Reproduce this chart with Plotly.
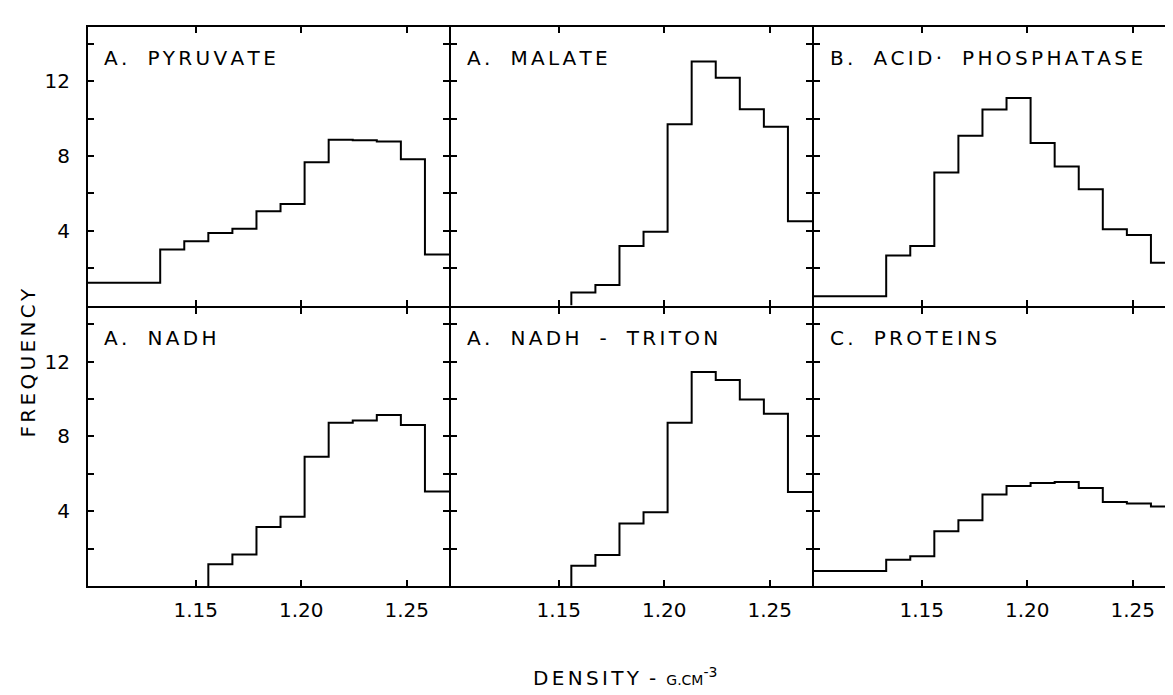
import plotly.graph_objects as go
from plotly.subplots import make_subplots

# ---- data ----
bin_edges = [1.099, 1.1104, 1.1218, 1.1332, 1.1446, 1.156, 1.1674, 1.1788,
             1.1902, 1.2016, 1.213, 1.2244, 1.2358, 1.2472, 1.2586, 1.27]

pyruvate = [1.22, 1.22, 1.22, 3.0, 3.44, 3.88, 4.11, 5.04, 5.43, 7.66, 8.87, 8.84, 8.78, 7.82, 2.73]
malate = [0, 0, 0, 0, 0, 0.69, 1.10, 3.18, 3.94, 9.70, 13.06, 12.19, 10.50, 9.56, 4.51]
acid_phosphatase = [0.5, 0.5, 0.5, 2.68, 3.18, 7.11, 9.08, 10.48, 11.1, 8.69, 7.44, 6.22, 4.08, 3.77, 2.29]
nadh = [0, 0, 0, 0, 0, 1.16, 1.69, 3.16, 3.71, 6.92, 8.74, 8.86, 9.15, 8.61, 5.05]
nadh_triton = [0, 0, 0, 0, 0, 1.09, 1.66, 3.34, 3.95, 8.73, 11.45, 11.02, 9.98, 9.21, 5.03]
proteins = [0.8, 0.8, 0.8, 1.41, 1.59, 2.93, 3.52, 4.89, 5.35, 5.51, 5.56, 5.24, 4.49, 4.41, 4.26]

panel_titles = ["A. PYRUVATE", "A. MALATE", "B. ACID· PHOSPHATASE",
                "A. NADH", "A. NADH - TRITON", "C. PROTEINS"]
panel_values = [pyruvate, malate, acid_phosphatase, nadh, nadh_triton, proteins]

x_tickvals = [1.15, 1.20, 1.25]
x_ticktext = ["1.15", "1.20", "1.25"]
y_tickvals = [4, 8, 12]
y_ticktext = ["4", "8", "12"]
y_minor_step = 2

y_title = "FREQUENCY"

FONT = "DejaVu Sans, Liberation Sans, sans-serif"
SP = "\u2006"
WORD_GAP = "\u2002\u2002"


def spaced(s, sep=SP):
    return WORD_GAP.join(sep.join(list(w)) for w in s.split(" "))


fig = make_subplots(rows=2, cols=3, horizontal_spacing=0, vertical_spacing=0)

for i, (title, vals) in enumerate(zip(panel_titles, panel_values)):
    r = i // 3 + 1
    c = i % 3 + 1
    # start the step line at the first non-empty bin (rising from the baseline)
    k = next(j for j, v in enumerate(vals) if v > 0)
    if k > 0:
        xs = [bin_edges[k]] + bin_edges[k:]
        ys = [0] + vals[k:] + [vals[-1]]
    else:
        xs = bin_edges
        ys = vals + [vals[-1]]
    fig.add_trace(go.Scatter(
        x=xs, y=ys, mode="lines",
        line=dict(shape="hv", color="black", width=2),
        showlegend=False, hoverinfo="skip"), row=r, col=c)
    idx = "" if i == 0 else str(i + 1)
    fig.add_annotation(
        xref=f"x{idx} domain", yref=f"y{idx} domain", x=0.04, y=0.89,
        xanchor="left", yanchor="middle", showarrow=False,
        text=spaced(title), font=dict(family=FONT, size=20, color="black"))

axis_common = dict(showline=True, linecolor="black", linewidth=2, mirror="allticks",
                   ticks="inside", ticklen=6, tickwidth=2, tickcolor="black",
                   showgrid=False, zeroline=False,
                   tickfont=dict(family=FONT, size=20, color="black"))

for r in (1, 2):
    for c in (1, 2, 3):
        fig.update_xaxes(range=[bin_edges[0], bin_edges[-1]], tickmode="array",
                         tickvals=x_tickvals, ticktext=x_ticktext,
                         showticklabels=(r == 2), ticklabelstandoff=5,
                         row=r, col=c, **axis_common)
        fig.update_yaxes(range=[0, 14.9], tickmode="array",
                         tickvals=y_tickvals, ticktext=y_ticktext,
                         minor=dict(tick0=0, dtick=y_minor_step, ticks="inside",
                                    ticklen=6, tickwidth=2, tickcolor="black",
                                    showgrid=False),
                         showticklabels=(c == 1), ticklabelstandoff=12,
                         row=r, col=c, **axis_common)

# domains arranged so that neighbouring frame lines coincide
W, H = 1089.0, 559.0
pw = (W - 4) / 3 / W
gx = 2 / W
x_domains = [[0, pw], [pw + gx, 2 * pw + gx], [2 * pw + 2 * gx, 1]]
ph = (H - 2) / 2 / H
gy = 2 / H
y_domains = {1: [ph + gy, 1], 2: [0, ph]}
for i in range(6):
    r = i // 3 + 1
    c = i % 3
    key = "" if i == 0 else str(i + 1)
    fig.layout["xaxis" + key].domain = x_domains[c]
    fig.layout["yaxis" + key].domain = y_domains[r]

fig.add_annotation(xref="paper", yref="paper", x=-0.055, y=0.40,
                   xanchor="center", yanchor="middle", showarrow=False, textangle=-90,
                   text=spaced(y_title), font=dict(family=FONT, size=20, color="black"))

fig.add_annotation(xref="paper", yref="paper", x=0.494, y=-0.19,
                   xanchor="center", yanchor="bottom", showarrow=False,
                   text=spaced("DENSITY") + "\u2002" + "-" + "\u2002"
                   + "<span style='font-size:14px'>G.CM</span><sup>-3</sup>",
                   font=dict(family=FONT, size=20, color="black"))

fig.update_layout(width=1173, height=695, margin=dict(l=80, r=4, t=19, b=117),
                  paper_bgcolor="white", plot_bgcolor="white")

fig.write_html("out.html")
